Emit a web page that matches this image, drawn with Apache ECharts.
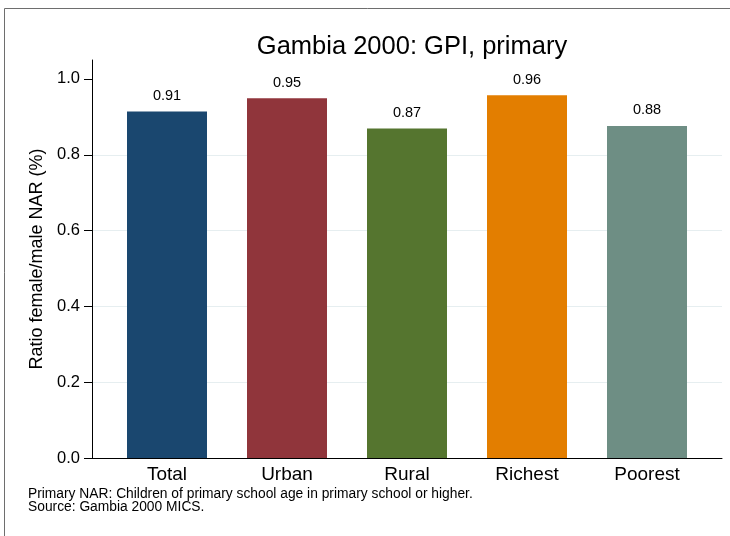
<!DOCTYPE html>
<html>
<head>
<meta charset="utf-8">
<script src="https://cdn.jsdelivr.net/npm/echarts@6/dist/echarts.min.js"></script>
<style>
  html, body { margin: 0; padding: 0; background: #fff; }
  #chart { width: 730px; height: 536px; }
</style>
</head>
<body>
<div id="chart"></div>
<script>
// data
const categories = ['Total', 'Urban', 'Rural', 'Richest', 'Poorest'];
const gpiValues = [0.914, 0.949, 0.869, 0.957, 0.876];
const barColors = ['#1a476f', '#90353b', '#55752f', '#e37e00', '#6e8e84'];
const yTicks = [0, 0.2, 0.4, 0.6, 0.8, 1.0];

const FONT = 'Liberation Sans, Arial, sans-serif';

const chart = echarts.init(document.getElementById('chart'));

const option = {
  backgroundColor: '#fff',
  animation: false,
  title: {
    text: 'Gambia 2000: GPI, primary',
    left: 407,
    top: 29,
    textAlign: 'center',
    textStyle: { fontFamily: FONT, fontSize: 25.5, fontWeight: 'normal', color: '#000' }
  },
  graphic: [
    {
      type: 'rect',
      shape: { x: 4.5, y: 8.5, width: 740, height: 540 },
      style: { fill: 'none', stroke: '#6e6e6e', lineWidth: 1 },
      silent: true
    },
    {
      type: 'text',
      left: 28,
      top: 487,
      style: {
        text: 'Primary NAR: Children of primary school age in primary school or higher.\nSource: Gambia 2000 MICS.',
        font: '13.8px ' + FONT,
        fill: '#000',
        lineHeight: 13.5
      }
    }
  ],
  grid: [
    // frame grid: y axis, grid lines, bottom axis line
    { left: 92, right: 8, top: 60, bottom: 78 },
    // bar grid, inset so the categories sit like the reference
    { left: 107, right: 23, top: 60, bottom: 78 }
  ],
  xAxis: [
    {
      gridIndex: 0,
      type: 'value',
      min: 0,
      max: 1,
      axisLine: { show: true, lineStyle: { color: '#000', width: 1 } },
      axisTick: { show: false },
      axisLabel: { show: false },
      splitLine: { show: false }
    },
    {
      gridIndex: 1,
      type: 'category',
      data: categories,
      axisLine: { show: false },
      axisTick: { show: false },
      axisLabel: { fontFamily: FONT, fontSize: 19, color: '#000', margin: 7 }
    }
  ],
  yAxis: [
    {
      gridIndex: 0,
      type: 'value',
      min: 0,
      max: 1.05,
      name: 'Ratio female/male NAR (%)',
      nameLocation: 'middle',
      nameGap: 44,
      nameTextStyle: { fontFamily: FONT, fontSize: 18, color: '#000' },
      axisLine: { show: true, lineStyle: { color: '#000', width: 1 } },
      axisTick: { show: true, length: 8, customValues: yTicks, lineStyle: { color: '#000' } },
      axisLabel: {
        customValues: yTicks,
        fontFamily: FONT,
        fontSize: 16.5,
        color: '#000',
        margin: 12,
        formatter: v => v.toFixed(1)
      },
      splitLine: {
        show: true,
        showMinLine: false,
        showMaxLine: false,
        lineStyle: { color: '#e6eef0', width: 1 }
      }
    },
    {
      gridIndex: 1,
      type: 'value',
      min: 0,
      max: 1.05,
      show: false
    }
  ],
  series: [
    {
      type: 'bar',
      xAxisIndex: 1,
      yAxisIndex: 1,
      barWidth: 80,
      data: gpiValues.map((v, i) => ({ value: v, itemStyle: { color: barColors[i] } })),
      label: {
        show: true,
        position: 'top',
        distance: 8,
        fontFamily: FONT,
        fontSize: 14.5,
        color: '#000',
        formatter: p => p.value.toFixed(2)
      }
    }
  ]
};

chart.setOption(option);
</script>
</body>
</html>
